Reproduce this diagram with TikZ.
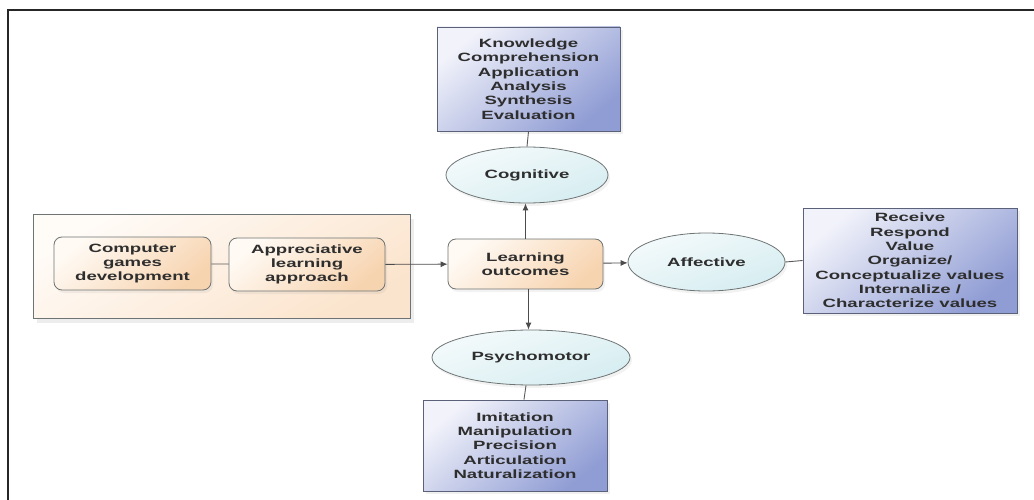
\documentclass[tikz,border=0pt]{standalone}
\usepackage{fontspec}
\newfontfamily\diagfont[FakeStretch=1.55]{Liberation Sans}
\usetikzlibrary{arrows.meta, positioning, shapes.geometric, shadows}

\definecolor{txtgray}{HTML}{2E2E2E}
\definecolor{blueL}{HTML}{F1F2FA}
\definecolor{blueD}{HTML}{909DD4}
\definecolor{blueB}{HTML}{5A6178}
\definecolor{peachL}{HTML}{FFFAF4}
\definecolor{peachD}{HTML}{F7D4B0}
\definecolor{panelL}{HTML}{FFFBF7}
\definecolor{panelD}{HTML}{FBE4CD}
\definecolor{cyanL}{HTML}{F4FAFB}
\definecolor{cyanD}{HTML}{D6EDF1}
\definecolor{edgegray}{HTML}{6E7474}

\tikzset{
  every node/.style={font=\diagfont\bfseries\fontsize{12}{14.3}\selectfont, text=txtgray, align=center},
  bluebox/.style={draw=blueB, line width=0.9pt, shading=axis, top color=blueL, bottom color=blueD,
    shading angle=40, inner sep=0pt,
    drop shadow={shadow xshift=3pt, shadow yshift=-3pt, opacity=0.12, fill=gray}},
  oval/.style={ellipse, draw=edgegray, line width=0.8pt, shading=axis, top color=cyanL, bottom color=cyanD,
    shading angle=20, inner sep=0pt,
    drop shadow={shadow xshift=2pt, shadow yshift=-3pt, opacity=0.1, fill=gray}},
  peachbox/.style={draw=edgegray, line width=0.8pt, rounded corners=8pt, shading=axis,
    top color=peachL, bottom color=peachD, shading angle=40, inner sep=0pt,
    drop shadow={shadow xshift=2pt, shadow yshift=-3pt, opacity=0.1, fill=gray}},
  panel/.style={draw=edgegray, line width=0.8pt, shading=axis, top color=panelL, bottom color=panelD,
    shading angle=30, inner sep=0pt,
    drop shadow={shadow xshift=4pt, shadow yshift=-5pt, opacity=0.14, fill=gray}},
  arr/.style={-{Latex[length=7pt,width=6pt]}, draw=black!70, line width=0.9pt},
  link/.style={draw=black!65, line width=0.9pt}
}

\begin{document}
\begin{tikzpicture}[x=1pt,y=-1pt]
\useasboundingbox (0,0) rectangle (1034,500);

% Rahmen
\draw[line width=1.6pt, black!85] (8,500) -- (8,10) -- (1034,10);

% linke Gruppe
\node[panel, minimum width=377pt, minimum height=104pt] (group) at (221.5,266) {};
\node[peachbox, minimum width=157pt, minimum height=53pt] (games) at (132.5,263.5)
  {Computer\\games\\development};
\node[peachbox, minimum width=156pt, minimum height=53pt] (appr) at (307,264.5)
  {Appreciative\\learning\\approach};

% Mitte
\node[peachbox, minimum width=155pt, minimum height=50pt] (outcome) at (525.5,264)
  {Learning\\outcomes};

% Bereiche
\node[oval, minimum width=162pt, minimum height=56pt] (cog) at (527,175) {Cognitive};
\node[oval, minimum width=157pt, minimum height=58pt] (aff) at (706.5,262) {Affective};
\node[oval, minimum width=198pt, minimum height=55pt] (psy) at (531,357.5) {Psychomotor};

% Stufen
\node[bluebox, minimum width=183pt, minimum height=104pt] (cogbox) at (528.5,79)
  {Knowledge\\Comprehension\\Application\\Analysis\\Synthesis\\Evaluation};
\node[bluebox, minimum width=214pt, minimum height=105pt] (affbox) at (910,260.5)
  {Receive\\Respond\\Value\\Organize/\\Conceptualize values\\Internalize /\\Characterize values};
\node[bluebox, minimum width=184pt, minimum height=91pt] (psybox) at (515,445.5)
  {Imitation\\Manipulation\\Precision\\Articulation\\Naturalization};

% Verbindungen
\draw[link] (games) -- (appr);
\draw[arr] (appr) -- (outcome);
\draw[arr] (outcome.north) -- (outcome.north |- cog.south);
\draw[arr] (outcome) -- (aff);
\draw[arr] ([xshift=3pt]outcome.south) -- ([xshift=3pt]outcome.south |- psy.north);
\draw[link] (cogbox.south) -- (cog.north);
\draw[link] (aff.east) -- (affbox.west);
\draw[link] ([xshift=-5pt]psy.south) -- ([xshift=9pt]psybox.north);

\end{tikzpicture}
\end{document}
